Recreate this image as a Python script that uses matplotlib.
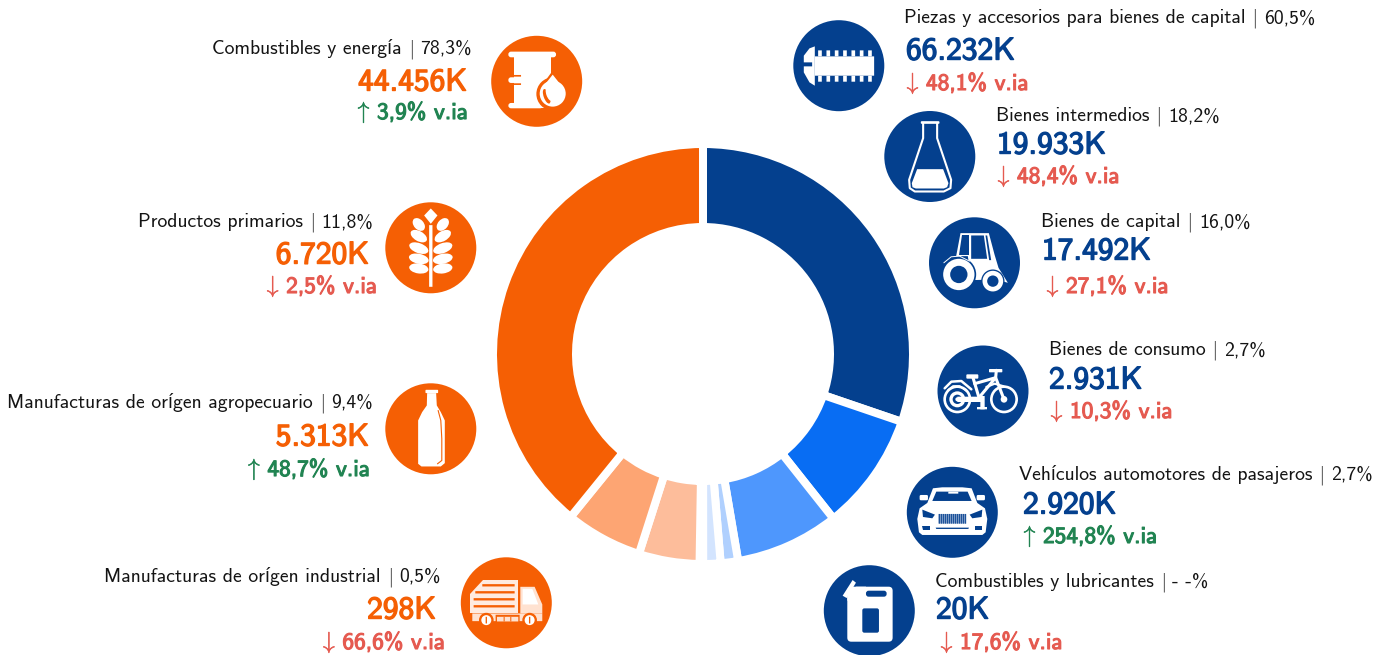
import matplotlib
matplotlib.use("Agg")
import matplotlib.pyplot as plt
import matplotlib.patheffects as pe
from matplotlib.patches import Circle, Ellipse, FancyBboxPatch, Polygon

# right half of the ring
blue_names = ["Piezas y accesorios para bienes de capital", "Bienes intermedios", "Bienes de capital",
              "Bienes de consumo", "Vehículos automotores de pasajeros", "Combustibles y lubricantes"]
blue_shares = ["60,5%", "18,2%", "16,0%", "2,7%", "2,7%", "- -%"]
blue_values = [66232, 19933, 17492, 2931, 2920, 20]
blue_labels = ["66.232K", "19.933K", "17.492K", "2.931K", "2.920K", "20K"]
blue_changes = ["48,1%", "48,4%", "27,1%", "10,3%", "254,8%", "17,6%"]
blue_up = [False, False, False, False, True, False]

# left half of the ring
orange_names = ["Combustibles y energía", "Productos primarios", "Manufacturas de orígen agropecuario",
                "Manufacturas de orígen industrial"]
orange_shares = ["78,3%", "11,8%", "9,4%", "0,5%"]
orange_values = [44456, 6720, 5313, 298]
orange_labels = ["44.456K", "6.720K", "5.313K", "298K"]
orange_changes = ["3,9%", "2,5%", "48,7%", "66,6%"]
orange_up = [True, False, True, False]

BLUE = "#04408E"
ORANGE = "#F55F04"
GREEN = "#218452"
RED = "#E55A50"
WHITE = "white"
W, H = 1386, 655

plt.rcParams["font.family"] = ["cmss10", "Open Sans", "DejaVu Sans"]
plt.rcParams["axes.unicode_minus"] = False
plt.rcParams["mathtext.fontset"] = "cm"

fig = plt.figure(figsize=(W / 100, H / 100), dpi=100)
ax = fig.add_axes([0, 0, 1, 1])


# icon helpers: coordinates are in 1/3 px, relative to the circle centre, y down
def pts(c, p):
    return [(c[0] + x / 3, H - (c[1] + y / 3)) for x, y in p]


def poly(c, p, color=WHITE, z=3):
    ax.add_patch(Polygon(pts(c, p), closed=True, fc=color, ec="none", zorder=z))


def box(c, x0, y0, x1, y1, color=WHITE, r=0, z=3):
    (a, b), = pts(c, [(x0, y1)])
    ax.add_patch(FancyBboxPatch((a, b), (x1 - x0) / 3, (y1 - y0) / 3, boxstyle=f"round,pad=0,rounding_size={r / 3}",
                                fc=color, ec="none", zorder=z))


def disc(c, x, y, r, color=WHITE, z=3):
    (a, b), = pts(c, [(x, y)])
    ax.add_patch(Circle((a, b), r / 3, fc=color, ec="none", zorder=z))


def ell(c, x, y, w, h, angle, color=WHITE, z=3):
    (a, b), = pts(c, [(x, y)])
    ax.add_patch(Ellipse((a, b), w / 3, h / 3, angle=angle, fc=color, ec="none", zorder=z))


def stroke(c, p, color=WHITE, lw=1.4, z=3):
    q = pts(c, p)
    ax.plot([i[0] for i in q], [i[1] for i in q], color=color, lw=lw, zorder=z, solid_capstyle="round",
            solid_joinstyle="round")


def barrel(c):
    bg = ORANGE
    box(c, -85, -89, 58, -72, r=8)
    poly(c, [(-69, -75), (43, -75), (43, 81), (-69, 81)])
    box(c, -85, -12, -47, 5, r=8)
    box(c, -85, 65, 18, 81, r=8)
    box(c, -69, -19, -47, -14, bg)
    box(c, -69, 6, -47, 11, bg)
    poly(c, [(48, -32), (10, 20), (100, 20)], bg, z=4)
    disc(c, 49, 38, 50, bg, z=4)
    poly(c, [(48, -20), (18, 18), (78, 18)], z=5)
    disc(c, 48, 37, 39, z=5)
    ell(c, 30, 45, 18, 46, 20, bg, z=6)
    ell(c, 38, 39, 18, 42, 20, WHITE, z=7)


def wheat(c):
    box(c, -5, -68, 5, 117)
    poly(c, [(0, -118), (20, -97), (0, -72), (-20, -97)])
    for y, w, a in [(-70, 44, 48), (-35, 54, 30), (1, 60, 20), (33, 60, 12), (62, 58, 8)]:
        ell(c, -36, y, w, 30, -a)
        ell(c, 36, y, w, 30, a)


def bolt(c):
    poly(c, [(-72, -58), (-88, -52), (-105, -30), (-105, -10), (-80, -10), (-80, 2), (-105, 2), (-105, 20), (-88, 50),
             (-72, 60)])
    box(c, -72, -28, 106, 30)
    for x in range(-62, 92, 25):
        box(c, x, -46, x + 11, -28)
        box(c, x, 30, x + 11, 48)


def flask(c):
    stroke(c, [(-20, -100), (-20, -55), (-62, 70), (-60, 95), (-45, 105), (42, 105), (62, 95), (64, 70), (22, -55),
               (22, -100)], lw=1.5)
    box(c, -27, -106, 29, -98, r=3)
    poly(c, [(-38, 38), (40, 38), (56, 80), (52, 92), (42, 96), (-42, 96), (-52, 92), (-54, 80)])


def tractor(c):
    poly(c, [(-42, -89), (43, -89), (60, -25), (72, 15), (100, 60), (65, 50), (-10, 52), (-20, -20), (-55, -20)])
    poly(c, [(-38, -82), (-17, -82), (-17, -22), (-48, -22)], BLUE, z=4)
    poly(c, [(-10, -82), (28, -82), (38, -12), (-10, -12)], BLUE, z=4)
    poly(c, [(33, -82), (38, -82), (50, -8), (44, -8)], BLUE, z=4)
    stroke(c, [(-92, 0), (-70, -18), (-45, -20), (-15, -5)], lw=0.7, z=5)
    disc(c, -47, 35, 52, BLUE, z=4)
    disc(c, -47, 35, 47, z=5)
    disc(c, -47, 35, 26, BLUE, z=6)
    disc(c, 55, 55, 35, BLUE, z=4)
    disc(c, 55, 55, 31, z=5)
    disc(c, 55, 55, 17, BLUE, z=6)


def bike(c):
    for x, r in [(-77, 42), (63, 42)]:
        disc(c, x, 25, r)
        disc(c, x, 25, r - 8, BLUE)
    disc(c, 63, 25, 10)
    disc(c, -77, 25, 24)
    disc(c, -77, 25, 14, BLUE)
    disc(c, -77, 25, 6)
    box(c, -77, 17, 0, 33)
    box(c, -50, -50, -14, -37, r=3)
    box(c, 18, -66, 58, -56, r=2)
    stroke(c, [(-30, -40), (-12, 20)], lw=2.2)
    stroke(c, [(-25, -22), (38, -40), (-8, 15)], lw=2.2)
    stroke(c, [(40, -62), (38, -40), (63, 25)], lw=2.2)
    stroke(c, [(-115, -8), (-95, -28), (-65, -30), (-35, -5)], lw=1.8)
    stroke(c, [(-105, -3), (-90, -15), (-70, -15), (-50, 0)], lw=1.2)
    stroke(c, [(10, -12), (35, -22), (62, -14)], lw=1.6)
    box(c, -8, 15, 5, 55)
    box(c, -18, 48, 12, 55)


def car(c):
    poly(c, [(-58, -72), (-30, -75), (30, -75), (58, -72), (75, -28), (98, -12), (105, 20), (100, 60), (90, 68),
             (-90, 68), (-100, 60), (-105, 20), (-98, -12), (-75, -28)])
    box(c, -98, -52, -73, -36, r=4)
    box(c, 73, -52, 98, -36, r=4)
    poly(c, [(-48, -62), (46, -62), (58, -34), (-60, -34)], BLUE, z=4)
    box(c, -12, -62, 18, -56, z=5)
    poly(c, [(-90, -8), (-52, 7), (-60, 18), (-88, 14)], BLUE, z=4)
    poly(c, [(90, -8), (52, 7), (60, 18), (88, 14)], BLUE, z=4)
    poly(c, [(-90, 42), (-68, 42), (-68, 52), (-88, 52)], BLUE, z=4)
    poly(c, [(90, 42), (68, 42), (68, 52), (88, 52)], BLUE, z=4)
    poly(c, [(-50, 46), (50, 46), (48, 50), (-48, 50)], BLUE, z=4)
    box(c, -42, 5, 42, 34, "#7F9CC6", z=4)
    for x in range(-40, 42, 6):
        box(c, x, 5, x + 2.5, 34, BLUE, z=5)


def can(c):
    box(c, -66, -72, 70, 93, r=12)
    poly(c, [(-66, -30), (-66, -45), (-40, -72), (-10, -72), (-10, -30)])
    poly(c, [(-80, -45), (-50, -92), (-40, -84), (-68, -38)])
    box(c, -10, -60, 52, -42, BLUE, r=8, z=4)
    box(c, -21, -7, 29, 66, BLUE, r=6, z=4)


def bottle(c):
    box(c, -16, -117, 22, -107, r=2)
    poly(c, [(-11, -107), (16, -107), (18, -70), (30, -50), (42, -25), (42, 103), (30, 113), (-28, 113), (-38, 105),
             (-38, -25), (-26, -50), (-12, -70)])
    stroke(c, [(22, -55), (30, -25), (33, 30), (33, 95), (20, 105)], ORANGE, lw=0.8, z=4)


def truck(c):
    peach = "#FFE2D1"
    poly(c, [(-70, -67), (35, -67), (35, 32), (-110, 32), (-110, -25)], "#FFEBE0")
    for y in [-56, -35, -14, 7]:
        box(c, -98 + max(0, -y - 30), y, 25, y + 7, ORANGE, z=4)
    poly(c, [(42, -48), (85, -48), (108, 5), (108, 32), (42, 32)], peach)
    poly(c, [(49, -42), (78, -42), (96, 5), (49, 5)], WHITE, z=4)
    box(c, -102, 32, 108, 55, peach)
    for x in [-60, 70]:
        disc(c, x, 52, 22, ORANGE, z=4)
        disc(c, x, 52, 15, WHITE, z=5)
        box(c, x - 2, 42, x + 2, 62, ORANGE, z=6)
    box(c, -32, 36, 40, 62, ORANGE, z=4)
    box(c, -28, 42, 36, 56, peach, z=5)
    for x in [-8, 12]:
        box(c, x, 42, x + 3, 56, ORANGE, z=6)


# each side of the ring fills one half of the circle
sizes = [v / sum(blue_values) / 2 for v in blue_values] + [v / sum(orange_values) / 2 for v in orange_values[::-1]]
colors = ["#04408E", "#086DF3", "#4E97FD", "#B0D0FE", "#D3E4FE", "#FFFFFF", "#FEE5D8", "#FDBD9B", "#FDA573", "#F55F04"]
ax.pie(sizes, colors=colors, center=(703, H - 354), radius=210, startangle=90, counterclock=False, normalize=False,
       wedgeprops=dict(width=83, edgecolor="white", linewidth=5.76))

ax.set_xlim(0, W)
ax.set_ylim(0, H)
ax.set_aspect("auto")
ax.axis("off")

sides = [
    (blue_names, blue_shares, blue_labels, blue_changes, blue_up, BLUE,
     [(838.8, 65.7), (929.8, 156.5), (974.5, 262.8), (983, 391), (952.3, 512.3), (869.3, 610.7)],
     [bolt, flask, tractor, bike, car, can]),
    (orange_names, orange_shares, orange_labels, orange_changes, orange_up, ORANGE,
     [(536.7, 81.3), (430.8, 247.8), (430.8, 428.8), (506.3, 602.8)],
     [barrel, wheat, bottle, truck]),
]

# title / number / change anchors: (x, y) in pixels from the top left
blue_pos = [[(904, 18), (906, 51), (926, 84)], [(996, 116), (997, 145), (1017, 177)],
            [(1041, 222), (1042, 251), (1066, 287)], [(1049, 350), (1049, 380), (1070, 412)],
            [(1019, 475), (1023, 505), (1043, 537)], [(935, 582), (936, 610), (960, 643)]]
orange_pos = [[(472, 49), (467, 82), (468, 113)], [(373, 222), (369, 255), (377, 287)],
              [(373, 403), (369, 437), (370, 470)], [(441, 577), (436, 610), (445, 643)]]

renderer = fig.canvas.get_renderer()


def title_line(x, y, name, share, ha):
    # the bar is its own text: cmss10 has an em dash on that code point
    kw = dict(va="center", fontsize=14.2, color="#141414")
    order = [name, "|", share] if ha == "left" else [share, "|", name]
    for part in order:
        fam = dict(family="DejaVu Sans", fontweight="light", color="#444444") if part == "|" else {}
        t = ax.text(x, H - y, part, ha=ha, **{**kw, **fam})
        ext = t.get_window_extent(renderer)
        x = ext.x1 + 6 if ha == "left" else ext.x0 - 6


for (names, shares, labels, changes, ups, col, centers, icons), layout, ha in zip(sides, [blue_pos, orange_pos],
                                                                                   ["left", "right"]):
    for i, name in enumerate(names):
        ax.add_patch(Circle((centers[i][0], H - centers[i][1]), 45.5, fc=col, ec="none", zorder=2))
        icons[i](centers[i])
        (tx, ty), (nx, ny), (cx, cy) = layout[i]
        title_line(tx, ty, name, shares[i], ha)
        ax.text(nx, H - ny, labels[i], ha=ha, va="center", fontsize=22.6, color=col,
                path_effects=[pe.withStroke(linewidth=1.0, foreground=col)])
        tone = GREEN if ups[i] else RED
        t = ax.text(cx, H - cy, f"{changes[i]} v.ia", ha=ha, va="center", fontsize=16.8, color=tone,
                    path_effects=[pe.withStroke(linewidth=0.8, foreground=tone)])
        ext = t.get_window_extent(renderer)
        arrow = r"$\uparrow$" if ups[i] else r"$\downarrow$"
        ax.text(ext.x0 - 6, H - cy, arrow, ha="right", va="center", fontsize=17, color=tone,
                path_effects=[pe.withStroke(linewidth=0.3, foreground=tone)])

fig.savefig("out.png", dpi=100)
